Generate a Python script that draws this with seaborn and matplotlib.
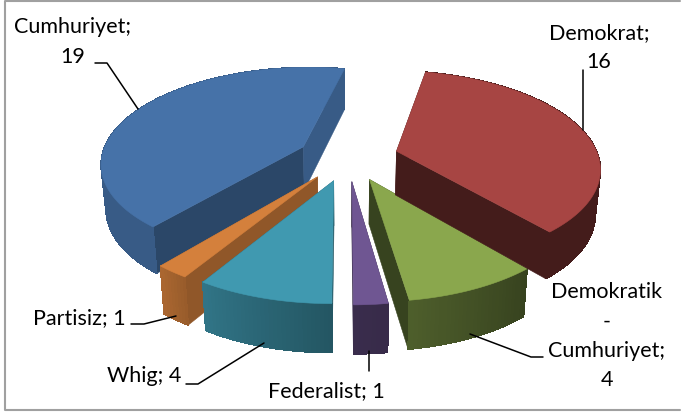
"""Exploded 3D pie of US presidents by party."""

import matplotlib.pyplot as plt
from matplotlib.patches import Polygon
import numpy as np
import seaborn as sns

parties = ["Demokrat", "Demokratik-Cumhuriyet", "Federalist", "Whig", "Partisiz", "Cumhuriyet"]
counts = [16, 4, 1, 4, 1, 19]
top_colors = ["#A74543", "#8AA74D", "#6F5692", "#4099B0", "#D4803C", "#4672A8"]

# wall brightness: first edge, last edge, outer wall at first and last edge
shades = {
    "Demokrat": (0.41, 0.41, 0.41, 0.41),
    "Demokratik-Cumhuriyet": (0.40, 0.40, 0.40, 0.56),
    "Federalist": (0.52, 0.52, 0.50, 0.52),
    "Whig": (0.58, 0.58, 0.56, 0.76),
    "Partisiz": (0.68, 0.68, 0.72, 0.80),
    "Cumhuriyet": (0.62, 0.80, 0.80, 0.80),
}
draw_order = ["Cumhuriyet", "Partisiz", "Whig", "Demokratik-Cumhuriyet", "Demokrat", "Federalist"]

FIRST_ANGLE = 11.8
EXPLODE = 0.25
CX, CY = 348.0, 157.0
RX, RY = 202.0, 95.0
PERSPECTIVE = 0.158
DEPTH = 44.0


def project(u, v, bottom=False):
    """Disc coordinates to pixels, with a little perspective."""
    s = 1 / (1 + PERSPECTIVE * v)
    x = CX + RX * u * s
    y = CY - RY * v * s
    if bottom:
        x = CX + (x - CX) * 0.98
        y = y + DEPTH * np.sqrt(s)
    return x, y


def add_poly(ax, xs, ys, color, zorder, smooth=True):
    ax.add_patch(Polygon(np.column_stack([xs, ys]), closed=True, facecolor=color,
                         edgecolor=color, linewidth=0.4, zorder=zorder, antialiased=smooth))


def draw_slice(ax, start, stop, color, shade, zorder):
    mid = np.radians((start + stop) / 2)
    ou, ov = EXPLODE * np.sin(mid), EXPLODE * np.cos(mid)
    angles = np.radians(np.arange(start, stop + 0.5, 1.0))
    rim_u = ou + np.sin(angles)
    rim_v = ov + np.cos(angles)
    base = np.array(color)

    tx, ty = project(rim_u, rim_v)
    bx, by = project(rim_u, rim_v, bottom=True)
    ax0, ay0 = project(ou, ov)
    ax1, ay1 = project(ou, ov, bottom=True)

    add_poly(ax, [ax0, tx[0], bx[0], ax1], [ay0, ty[0], by[0], ay1], base * shade[0], zorder)
    add_poly(ax, [ax0, tx[-1], bx[-1], ax1], [ay0, ty[-1], by[-1], ay1], base * shade[1], zorder)

    # solid wall first so the shaded strips leave no seams
    add_poly(ax, np.r_[tx, bx[::-1]], np.r_[ty, by[::-1]], base * (shade[2] + shade[3]) / 2, zorder)
    for i in range(len(angles) - 1):
        t = i / max(len(angles) - 2, 1)
        c = base * (shade[2] + (shade[3] - shade[2]) * t)
        add_poly(ax, [tx[i], tx[i + 1], bx[i + 1], bx[i]], [ty[i], ty[i + 1], by[i + 1], by[i]],
                 c, zorder, smooth=False)

    add_poly(ax, np.r_[ax0, tx], np.r_[ay0, ty], color, zorder + 0.5)


def main():
    sns.set_theme(style="white")
    plt.rcParams["font.family"] = ["Lato", "DejaVu Sans"]
    palette = sns.color_palette(top_colors)

    fig, ax = plt.subplots(figsize=(6.81, 4.12), dpi=100)
    ax.set_position([0, 0, 1, 1])
    ax.set_xlim(0, 681)
    ax.set_ylim(412, 0)
    ax.axis("off")

    ends = FIRST_ANGLE + np.cumsum(counts) / np.sum(counts) * 360
    starts = np.r_[FIRST_ANGLE, ends[:-1]]
    for z, party in enumerate(draw_order):
        i = parties.index(party)
        draw_slice(ax, starts[i], ends[i], palette[i], shades[party], z + 1)

    # label lines with their centres, leader lines in pixels
    labels = [
        (["Cumhuriyet;", "19"], 73, [27, 57]),
        (["Demokrat;", "16"], 599, [33, 62]),
        (["Demokratik", "-", "Cumhuriyet;", "4"], 607, [292, 322, 351, 380]),
        (["Federalist; 1"], 326, [391]),
        (["Whig; 4"], 144, [376]),
        (["Partisiz; 1"], 79, [318]),
    ]
    for lines, x, ys in labels:
        for line, y in zip(lines, ys):
            ax.text(x, y, line, ha="center", va="center", fontsize=15.5, color="black", zorder=20)

    leaders = [
        ([95, 107, 138], [63, 63, 109]),
        ([583, 583], [70, 130]),
        ([543, 531, 470], [357, 357, 334]),
        ([369, 369], [351, 371]),
        ([186, 198, 264], [384, 384, 343]),
        ([131, 144, 176], [324, 324, 316]),
    ]
    for xs, ys in leaders:
        ax.plot(xs, ys, color="black", linewidth=1.1, zorder=15)

    ax.plot([680, 5, 5, 680], [0.5, 0.5, 410, 410], color="#A0A0A0", linewidth=1.5, zorder=16)

    fig.savefig("out.png", dpi=100)
    plt.close(fig)


if __name__ == "__main__":
    main()
